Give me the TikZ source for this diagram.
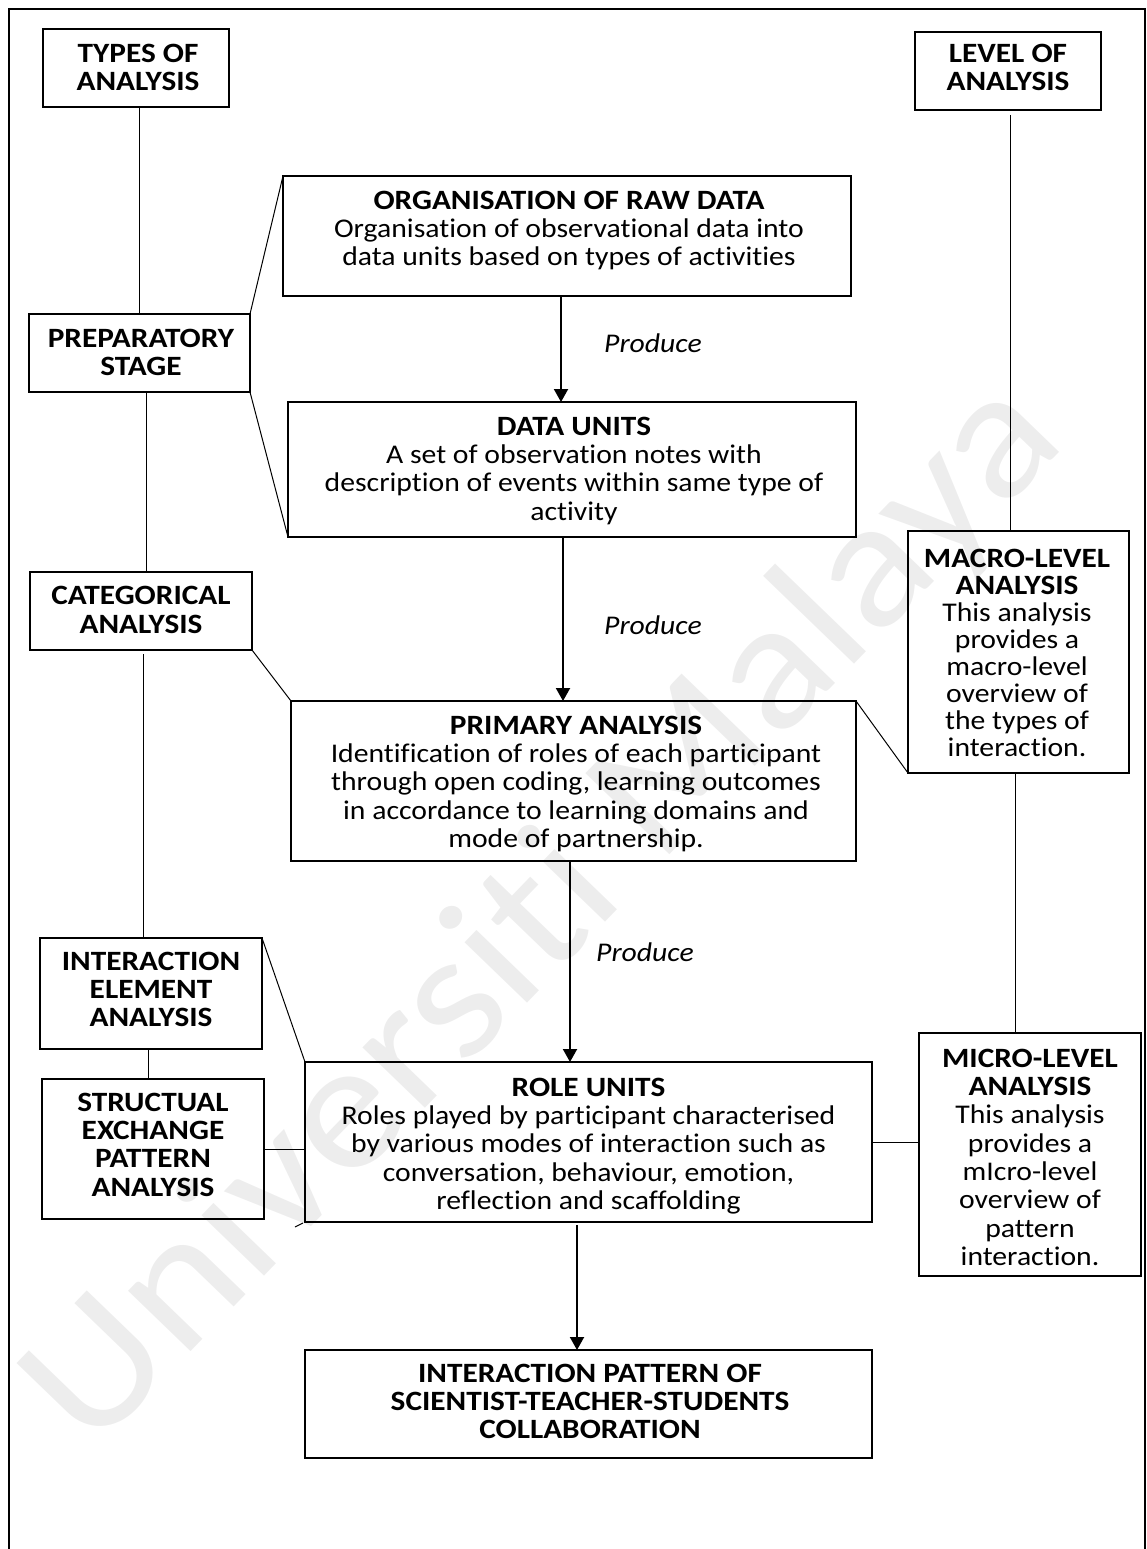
\documentclass[tikz,border=0pt]{standalone}
\usepackage{fontspec}
\setmainfont{Carlito}[FakeStretch=1.1, Ligatures=NoCommon,
  BoldFeatures={Scale=1.035, FakeStretch=1.12}]
\usetikzlibrary{arrows.meta}
\newcommand\bodyfont{\fontsize{27}{28.3}\selectfont}
\newcommand\tightfont{\fontsize{27}{27}\selectfont}
\newcommand\tstrut{\rule{0pt}{22pt}}

\begin{document}
\begin{tikzpicture}[x=1pt,y=-1pt,
  box/.style={draw, line width=1.2pt, inner sep=0pt, outer sep=0pt},
  txt/.style={inner sep=0pt, align=center, font=\bodyfont, anchor=north},
  htxt/.style={txt, font=\bodyfont\bfseries},
  conn/.style={line width=1pt},
  flow/.style={line width=2pt, -{Triangle[width=14pt,length=13pt]}},
  verb/.style={inner sep=0pt, font=\bodyfont\itshape}]

\useasboundingbox (0,0) rectangle (1147,1549);
\clip (0,0) rectangle (1147,1549);

% watermark
\node[rotate=46, text=black!7, inner sep=0pt,
      font=\fontsize{182}{182}\selectfont] (mark) at (545,915) {Universiti Malaya};

% outer frame, open at the bottom
\draw[line width=2pt] (9,1600) -- (9,9) -- (1145,9) -- (1145,1600);

% boxes
\node[box, minimum width=186pt, minimum height=78pt]  (types)  at (136,68) {};
\node[box, minimum width=186pt, minimum height=78pt]  (level)  at (1008,71) {};
\node[box, minimum width=221pt, minimum height=78pt]  (prep)   at (139.5,353) {};
\node[box, minimum width=568pt, minimum height=120pt] (org)    at (567,236) {};
\node[box, minimum width=568pt, minimum height=135pt] (data)   at (572,469.5) {};
\node[box, minimum width=222pt, minimum height=78pt]  (cat)    at (141,611) {};
\node[box, minimum width=565pt, minimum height=160pt] (prim)   at (573.5,781) {};
\node[box, minimum width=221pt, minimum height=242pt] (macro)  at (1018.5,652) {};
\node[box, minimum width=222pt, minimum height=111pt] (inter)  at (151,993.5) {};
\node[box, minimum width=222pt, minimum height=140pt] (struct) at (153,1149) {};
\node[box, minimum width=567pt, minimum height=160pt] (role)   at (588.5,1142) {};
\node[box, minimum width=222pt, minimum height=243pt] (micro)  at (1030,1154.5) {};
\node[box, minimum width=567pt, minimum height=108pt] (final)  at (588.5,1404) {};

% box texts
\node[htxt] (typesT) at (138,40) {\tstrut TYPES OF\\ANALYSIS};
\node[htxt] (levelT) at (1008,40) {\tstrut LEVEL OF\\ANALYSIS};
\node[htxt] (prepT) at (141,325) {\tstrut PREPARATORY\\STAGE};
\node[txt] (orgT) at (569,187) {\tstrut\textbf{ORGANISATION OF RAW DATA}\\
  Organisation of observational data into\\
  data units based on types of activities};
\node[txt] (dataT) at (574,413) {\tstrut\textbf{DATA UNITS}\\
  A set of observation notes with\\
  description of events within same type of\\
  activity};
\node[htxt] (catT) at (141,582.5) {\tstrut CATEGORICAL\\ANALYSIS};
\node[txt] (primT) at (576,712) {\tstrut\textbf{PRIMARY ANALYSIS}\\
  Identification of roles of each participant\\
  through open coding, learning outcomes\\
  in accordance to learning domains and\\
  mode of partnership.};
\node[txt, font=\tightfont] (macroT) at (1017,545) {\tstrut\textbf{MACRO-LEVEL}\\
  \textbf{ANALYSIS}\\
  This analysis\\
  provides a\\
  macro-level\\
  overview of\\
  the types of\\
  interaction.};
\node[htxt] (interT) at (151,948) {\tstrut INTERACTION\\ELEMENT\\ANALYSIS};
\node[htxt] (structT) at (153,1089) {\tstrut STRUCTUAL\\EXCHANGE\\PATTERN\\ANALYSIS};
\node[txt] (roleT) at (588.5,1074) {\tstrut\textbf{ROLE UNITS}\\
  Roles played by participant characterised\\
  by various modes of interaction such as\\
  conversation, behaviour, emotion,\\
  reflection and scaffolding};
\node[txt] (microT) at (1030,1045) {\tstrut\textbf{MICRO-LEVEL}\\
  \textbf{ANALYSIS}\\
  This analysis\\
  provides a\\
  mIcro-level\\
  overview of\\
  pattern\\
  interaction.};
\node[htxt] (finalT) at (590,1360) {\tstrut INTERACTION PATTERN OF\\
  SCIENTIST-TEACHER-STUDENTS\\COLLABORATION};

% flow arrows
\draw[flow] ([xshift=-6pt]org.south) -- ([xshift=-11pt]data.north);
\draw[flow] ([xshift=-9pt]data.south) -- ([xshift=-10.5pt]prim.north);
\draw[flow] ([xshift=-3.5pt]prim.south) -- ([xshift=-18.5pt]role.north);
\draw[flow, shorten <=3pt] ([xshift=-11.5pt]role.south) -- ([xshift=-11.5pt]final.north);

\node[verb] (p1) at (653,343) {Produce};
\node[verb] (p2) at (653,625) {Produce};
\node[verb] (p3) at (645,952) {Produce};

% vertical links between the side columns
\draw[conn] (prep.north |- types.south) -- (prep.north);
\draw[conn] ([xshift=6.5pt]prep.south) -- ([xshift=5pt]cat.north);
\draw[conn, shorten <=4pt] ([xshift=2pt]cat.south) -- ([xshift=-8pt]inter.north);
\draw[conn] ([xshift=-3pt]inter.south) -- ([xshift=-5pt]struct.north);
\draw[conn, shorten <=5pt] ([xshift=2pt]level.south) -- ([xshift=-8.5pt]macro.north);
\draw[conn] ([xshift=-3.5pt]macro.south) -- ([xshift=-15pt]micro.north);

% horizontal links
\draw[conn] (struct.east) -- (role.west |- struct.east);
\draw[conn] (role.east) -- (micro.west |- role.east);

% slanted links from the stages to the steps
\draw[conn] (org.north west) -- (prep.north east);
\draw[conn] (prep.south east) -- (data.south west);
\draw[conn] (cat.south east) -- (prim.north west);
\draw[conn] (prim.north east) -- (macro.south west);
\draw[conn] (inter.north east) -- (role.north west);
\draw[conn] ([xshift=-10pt,yshift=-5pt]role.south west) -- ([xshift=-2pt,yshift=-1pt]role.south west);

\end{tikzpicture}
\end{document}
